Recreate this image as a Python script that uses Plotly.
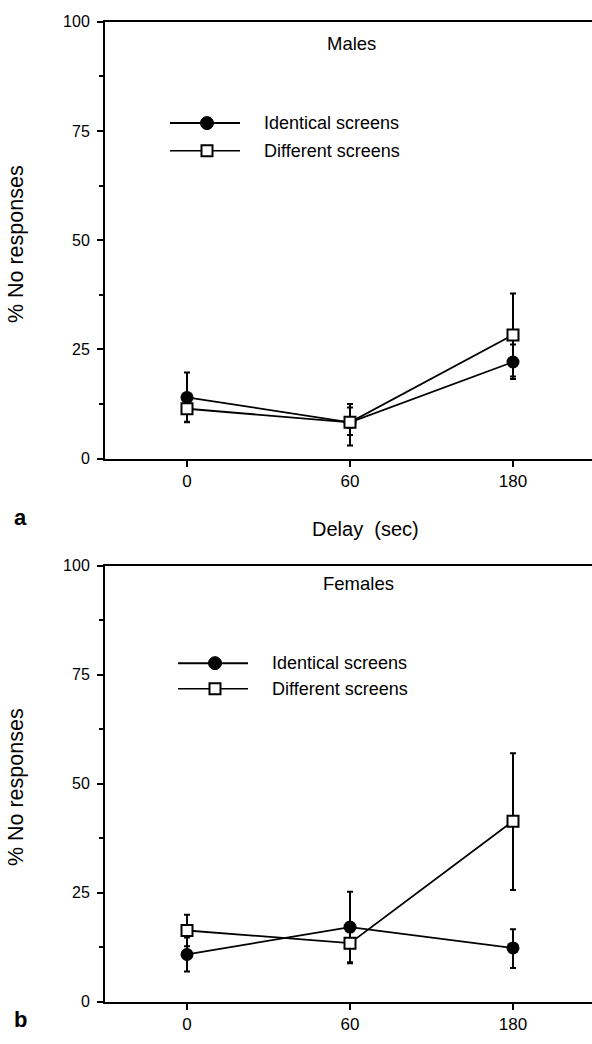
import plotly.graph_objects as go

W, H = 592, 1044

delays = ["0", "60", "180"]
xpos = [0, 1, 2]

# Males (panel a)
m_ident = [14.0, 8.3, 22.1]
m_ident_up = [5.7, 4.2, 4.0]
m_ident_dn = [5.7, 5.3, 3.9]
m_diff = [11.4, 8.3, 28.3]
m_diff_up = [3.0, 3.4, 9.5]
m_diff_dn = [3.0, 2.9, 9.5]

# Females (panel b)
f_ident = [10.8, 17.1, 12.3]
f_ident_up = [3.9, 8.1, 4.3]
f_ident_dn = [3.9, 8.1, 4.6]
f_diff = [16.3, 13.4, 41.4]
f_diff_up = [3.6, 4.6, 15.6]
f_diff_dn = [3.6, 4.6, 15.8]

y_major = [0, 25, 50, 75, 100]
series_names = ["Identical screens", "Different screens"]

FONT = "Liberation Sans, Arial, Helvetica, sans-serif"

def px(x):
    return x / W

def py(y):
    return 1 - y / H

fig = go.Figure()

panels = [
    ("x", "y", m_ident, m_ident_up, m_ident_dn, m_diff, m_diff_up, m_diff_dn),
    ("x2", "y2", f_ident, f_ident_up, f_ident_dn, f_diff, f_diff_up, f_diff_dn),
]

for xa, ya, ci, ciu, cid, sd, sdu, sdd in panels:
    fig.add_trace(go.Scatter(
        x=xpos, y=ci, xaxis=xa, yaxis=ya, mode="lines+markers",
        line=dict(color="black", width=1.8),
        marker=dict(symbol="circle", size=13, color="black"),
        error_y=dict(type="data", array=ciu, arrayminus=cid, symmetric=False,
                     color="black", thickness=2, width=3),
        showlegend=False, cliponaxis=False,
    ))
    fig.add_trace(go.Scatter(
        x=xpos, y=sd, xaxis=xa, yaxis=ya, mode="lines+markers",
        line=dict(color="black", width=1.8),
        marker=dict(symbol="square", size=11, color="white",
                    line=dict(color="black", width=2)),
        error_y=dict(type="data", array=sdu, arrayminus=sdd, symmetric=False,
                     color="black", thickness=2, width=3),
        showlegend=False, cliponaxis=False,
    ))

AX_LEFT = 105
xdom = [AX_LEFT / W, 1.0]
ydom_top = [py(458), py(14)]
ydom_bot = [py(1010), py(567)]

xcommon = dict(
    range=[-(187 - AX_LEFT) / 163.0, 2 + (592 - 513) / 163.0],
    tickmode="array", tickvals=xpos, ticktext=delays,
    showline=True, linecolor="black", linewidth=2, mirror=True,
    ticks="outside", ticklen=6, tickwidth=2, tickcolor="black",
    showgrid=False, zeroline=False,
    tickfont=dict(family=FONT, size=17, color="black"),
    domain=xdom, fixedrange=True,
)
ycommon = dict(
    range=[0, 100], tickmode="array", tickvals=y_major,
    showline=True, linecolor="black", linewidth=2,
    ticks="outside", ticklen=6, tickwidth=1.5, tickcolor="black",
    minor=dict(dtick=12.5, ticks="outside", ticklen=4, tickwidth=1.5, tickcolor="black"),
    showgrid=False, zeroline=False,
    tickfont=dict(family=FONT, size=16, color="black"),
    ticklabelstandoff=4, fixedrange=True,
)

fig.update_layout(
    width=W, height=H,
    margin=dict(l=0, r=0, t=0, b=0),
    paper_bgcolor="white", plot_bgcolor="white",
    showlegend=False,
    xaxis=dict(**xcommon, anchor="y"),
    yaxis=dict(**ycommon, domain=ydom_top, anchor="x"),
    xaxis2=dict(**xcommon, anchor="y2"),
    yaxis2=dict(**ycommon, domain=ydom_bot, anchor="x2"),
)

shapes = []
annotations = []

def legend_block(x_line0, x_line1, x_mark, x_text, y_rows):
    for i, yrow in enumerate(y_rows):
        shapes.append(dict(type="line", xref="paper", yref="paper",
                           x0=px(x_line0), x1=px(x_line1), y0=py(yrow), y1=py(yrow),
                           line=dict(color="black", width=2 if i == 0 else 1.5)))
        if i == 0:
            shapes.append(dict(type="circle", xref="paper", yref="paper",
                               xsizemode="pixel", ysizemode="pixel",
                               xanchor=px(x_mark), yanchor=py(yrow),
                               x0=-6.5, x1=6.5, y0=-6.5, y1=6.5,
                               fillcolor="black", line=dict(color="black", width=1)))
        else:
            shapes.append(dict(type="rect", xref="paper", yref="paper",
                               xsizemode="pixel", ysizemode="pixel",
                               xanchor=px(x_mark), yanchor=py(yrow),
                               x0=-5.5, x1=5.5, y0=-5.5, y1=5.5,
                               fillcolor="white", line=dict(color="black", width=2)))
        annotations.append(dict(text=series_names[i], xref="paper", yref="paper",
                                x=px(x_text), y=py(yrow), xanchor="left", yanchor="middle",
                                showarrow=False,
                                font=dict(family=FONT, size=18, color="black")))

legend_block(170, 240, 207, 262, [117, 145])
legend_block(178, 248, 215, 270, [666, 692])

def text(t, x, y, size, xanchor="center", bold=False, angle=0):
    annotations.append(dict(text=("<b>%s</b>" % t) if bold else t,
                            xref="paper", yref="paper", x=px(x), y=py(y),
                            xanchor=xanchor, yanchor="middle", showarrow=False,
                            textangle=angle,
                            font=dict(family=FONT, size=size, color="black")))

text("Males", 351, 36, 18.5)
text("Females", 358, 585, 18.5)
text("Delay&nbsp;&nbsp;(sec)", 365, 530, 20)
text("a", 20, 518, 22, bold=True)
text("b", 20, 1028, 22, bold=True)
text("% No responses", 16, 240, 21.5, angle=-90)
text("% No responses", 16, 792, 21.5, angle=-90)

fig.update_layout(shapes=shapes, annotations=annotations)

fig.write_html("out.html")
